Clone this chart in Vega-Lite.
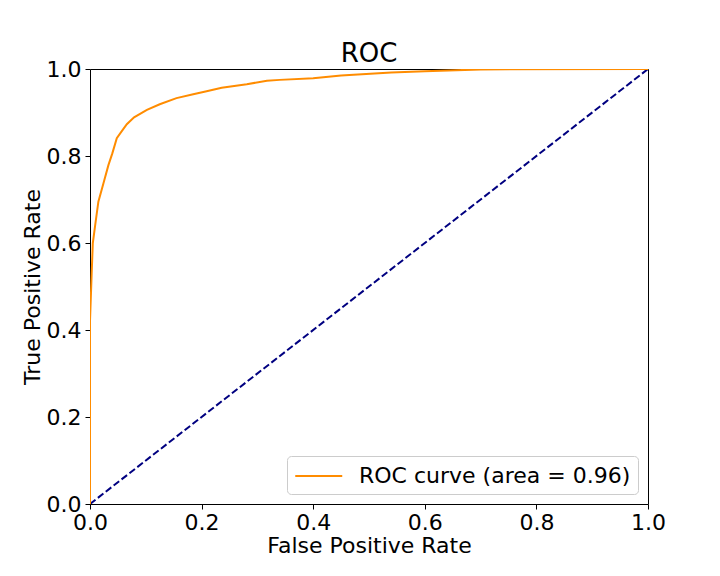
{
  "$schema": "https://vega.github.io/schema/vega-lite/v6.json",
  "width": 558,
  "height": 435,
  "autosize": {"type": "none"},
  "padding": {"left": 90, "top": 69, "right": 72, "bottom": 72},
  "background": "white",
  "config": {
    "font": "DejaVu Sans",
    "view": {"stroke": "black", "strokeWidth": 1},
    "axis": {
      "grid": false,
      "domain": false,
      "tickColor": "black",
      "tickSize": 5,
      "labelFontSize": 22,
      "labelColor": "black",
      "titleFontSize": 22,
      "titleFontWeight": "normal",
      "titleColor": "black",
      "labelFont": "DejaVu Sans",
      "titleFont": "DejaVu Sans",
      "labelFlush": false
    },
    "title": {"fontSize": 26, "fontWeight": "normal", "font": "DejaVu Sans", "color": "black"}
  },
  "title": {"text": "ROC", "offset": -9},
  "datasets": {
    "roc": [
      {"fpr": 0.0, "tpr": 0.0},
      {"fpr": 0.0, "tpr": 0.42},
      {"fpr": 0.003, "tpr": 0.53},
      {"fpr": 0.005, "tpr": 0.599},
      {"fpr": 0.009, "tpr": 0.638},
      {"fpr": 0.015, "tpr": 0.695},
      {"fpr": 0.024, "tpr": 0.737},
      {"fpr": 0.033, "tpr": 0.779},
      {"fpr": 0.040, "tpr": 0.806},
      {"fpr": 0.048, "tpr": 0.841},
      {"fpr": 0.057, "tpr": 0.857},
      {"fpr": 0.066, "tpr": 0.873},
      {"fpr": 0.079, "tpr": 0.889},
      {"fpr": 0.102, "tpr": 0.906},
      {"fpr": 0.125, "tpr": 0.919},
      {"fpr": 0.155, "tpr": 0.933},
      {"fpr": 0.185, "tpr": 0.942},
      {"fpr": 0.209, "tpr": 0.949},
      {"fpr": 0.236, "tpr": 0.957},
      {"fpr": 0.281, "tpr": 0.965},
      {"fpr": 0.317, "tpr": 0.973},
      {"fpr": 0.340, "tpr": 0.975},
      {"fpr": 0.40, "tpr": 0.979},
      {"fpr": 0.45, "tpr": 0.985},
      {"fpr": 0.54, "tpr": 0.992},
      {"fpr": 0.60, "tpr": 0.995},
      {"fpr": 0.70, "tpr": 0.999},
      {"fpr": 1.0, "tpr": 1.0}
    ],
    "diag": [
      {"fpr": 0, "tpr": 0},
      {"fpr": 1, "tpr": 1}
    ]
  },
  "layer": [
    {
      "data": {"name": "diag"},
      "mark": {"type": "line", "color": "navy", "strokeWidth": 2, "strokeDash": [7, 3], "clip": true},
      "encoding": {
        "x": {"field": "fpr", "type": "quantitative"},
        "y": {"field": "tpr", "type": "quantitative"}
      }
    },
    {
      "data": {"name": "roc"},
      "transform": [{"calculate": "'ROC curve (area = 0.96)'", "as": "series"}],
      "mark": {"type": "line", "strokeWidth": 2, "clip": true},
      "encoding": {
        "x": {
          "field": "fpr", "type": "quantitative",
          "scale": {"domain": [0, 1], "nice": false, "zero": false},
          "axis": {"title": "False Positive Rate", "values": [0, 0.2, 0.4, 0.6, 0.8, 1.0], "format": ".1f", "titlePadding": 2, "labelPadding": 3}
        },
        "y": {
          "field": "tpr", "type": "quantitative",
          "scale": {"domain": [0, 1.0], "nice": false, "zero": false},
          "axis": {"title": "True Positive Rate", "values": [0, 0.2, 0.4, 0.6, 0.8, 1.0], "format": ".1f", "titlePadding": 2, "labelPadding": 4}
        },
        "order": {"field": "fpr"},
        "color": {
          "field": "series", "type": "nominal",
          "scale": {"domain": ["ROC curve (area = 0.96)"], "range": ["darkorange"]},
          "legend": {
            "title": null,
            "orient": "bottom-right",
            "offset": 10,
            "symbolType": "M-1,0H3",
            "symbolSize": 552,
            "symbolStrokeWidth": 2,
            "labelFontSize": 22,
            "labelColor": "black",
            "labelFont": "DejaVu Sans",
            "labelLimit": 500,
            "strokeColor": "#cccccc",
            "fillColor": "white",
            "cornerRadius": 4,
            "padding": 7,
            "labelOffset": 39
          }
        }
      }
    }
  ]
}
